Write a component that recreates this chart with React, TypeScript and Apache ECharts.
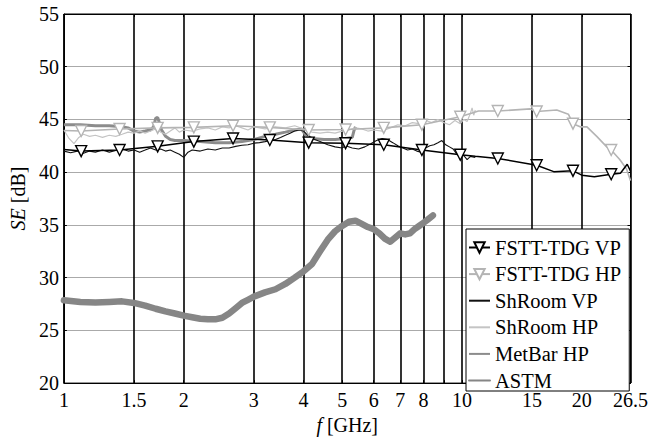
import React, { useEffect, useRef } from "react";
import * as echarts from "echarts";

// ---- axis ticks ----
const xTickLabels = [1, 1.5, 2, 3, 4, 5, 6, 7, 8, 10, 15, 20, 26.5];
const xGridValues = [1, 1.5, 2, 3, 4, 5, 6, 7, 8, 9, 10, 15, 20, 26.5];
const yMin = 20;
const yMax = 55;
const yStep = 5;

// ---- FSTT-TDG marker frequencies (GHz) ----
const markerFreqs = [1.105, 1.38, 1.72, 2.12, 2.66, 3.29, 4.12, 5.1, 6.36, 7.93, 9.9, 12.3, 15.4, 19.0, 23.7];

// ---- FSTT-TDG VP ----
const fsttVpFreq = [1.0, 1.105, 1.38, 1.72, 2.12, 2.66, 3.29, 4.12, 5.1, 6.36, 7.93, 9.9, 10.8, 12.3, 15.4, 17.0, 19.0, 20.0, 21.5, 23.7, 25.0, 26.0, 26.5];
const fsttVpSE = [42.15, 42.0, 42.1, 42.45, 42.9, 43.2, 43.05, 42.8, 42.75, 42.6, 42.1, 41.65, 41.5, 41.3, 40.66, 40.05, 40.13, 39.72, 39.57, 39.8, 39.9, 40.75, 40.1];

// ---- FSTT-TDG HP ----
const fsttHpFreq = [1.0, 1.105, 1.38, 1.72, 2.12, 2.66, 3.29, 4.12, 5.1, 6.36, 7.93, 9.9, 11.0, 12.3, 14.85, 15.4, 17.3, 18.5, 19.0, 19.8, 20.6, 21.8, 23.1, 23.7, 24.9, 25.9, 26.5];
const fsttHpSE = [43.95, 43.9, 44.1, 44.2, 44.25, 44.4, 44.25, 44.0, 44.05, 44.2, 44.5, 45.25, 45.8, 45.8, 46.0, 45.75, 45.9, 45.5, 44.6, 44.3, 44.3, 43.4, 42.4, 42.1, 41.2, 40.3, 39.2];

// ---- ShRoom VP ----
const shVpFreq = [1.0, 1.04, 1.08, 1.12, 1.16, 1.2, 1.25, 1.3, 1.35, 1.4, 1.45, 1.5, 1.55, 1.6, 1.65, 1.7, 1.75, 1.8, 1.85, 1.9, 1.95, 2.0, 2.05, 2.1, 2.2, 2.3, 2.4, 2.5, 2.6, 2.7, 2.8, 2.9, 3.0, 3.1, 3.2, 3.3, 3.4, 3.5, 3.6, 3.7, 3.8, 3.9, 4.0, 4.1, 4.2, 4.4, 4.6, 4.8, 5.0, 5.1, 5.3, 5.5, 5.7, 5.9, 6.1, 6.3, 6.5, 6.7, 6.9, 7.1, 7.3, 7.5, 7.7, 7.9, 8.1, 8.3, 8.5, 8.7, 8.9, 9.1, 9.3, 9.5, 9.7, 9.9, 10.1, 10.3, 10.5, 10.8];
const shVpSE = [42.0, 41.85, 42.0, 41.8, 42.0, 41.9, 42.1, 41.9, 42.05, 42.2, 42.0, 42.1, 41.9, 42.1, 42.3, 42.1, 42.2, 42.0, 42.1, 41.9, 41.7, 41.4, 41.9, 42.1, 42.0, 42.2, 42.1, 42.3, 42.3, 42.45, 42.55, 42.6, 42.75, 42.8, 42.9, 43.0, 43.1, 43.3, 43.5, 43.7, 43.9, 44.0, 43.9, 43.5, 43.2, 42.9, 42.6, 42.4, 42.3, 42.5, 42.3, 42.2, 42.4, 42.7, 43.0, 43.2, 43.1, 42.8, 42.5, 42.3, 42.1, 42.2, 42.0, 41.9, 42.3, 42.5, 42.6, 42.8, 43.0, 42.6, 42.4, 42.2, 41.7, 41.4, 41.6, 41.2, 41.5, 41.4];

// ---- ShRoom HP ----
const shHpFreq = [1.0, 1.03, 1.06, 1.09, 1.12, 1.16, 1.2, 1.25, 1.3, 1.35, 1.4, 1.45, 1.5, 1.55, 1.6, 1.65, 1.7, 1.75, 1.8, 1.85, 1.9, 1.95, 2.0, 2.1, 2.2, 2.3, 2.4, 2.5, 2.6, 2.7, 2.8, 2.9, 3.0, 3.2, 3.4, 3.6, 3.8, 4.0, 4.2, 4.4, 4.6, 4.8, 5.0, 5.2, 5.4, 5.6, 5.8, 6.0, 6.3, 6.6, 6.9, 7.2, 7.5, 7.8, 8.1, 8.4, 8.7, 9.0, 9.3, 9.6, 9.9, 10.1, 10.3, 10.5, 10.6, 10.7, 10.8];
const shHpSE = [44.0, 43.2, 42.7, 43.3, 43.6, 43.4, 43.5, 43.3, 43.5, 43.4, 43.6, 43.8, 43.7, 43.9, 43.7, 43.9, 44.1, 43.8, 43.6, 43.9, 44.2, 43.8, 44.0, 43.9, 44.1, 44.2, 44.0, 44.3, 44.2, 44.4, 44.2, 44.0, 44.3, 44.1, 44.3, 44.2, 44.4, 44.1, 43.8, 43.7, 43.8, 43.7, 43.9, 44.0, 44.2, 44.1, 43.9, 44.0, 43.9, 44.2, 44.5, 44.4, 44.7, 44.6, 44.9, 44.7, 45.0, 44.7, 44.5, 44.9, 44.6, 45.0, 44.8, 45.6, 46.1, 45.4, 45.9];

// ---- MetBar HP ----
const metBarFreq = [1.0, 1.1, 1.2, 1.3, 1.4, 1.45, 1.5, 1.55, 1.6, 1.65, 1.68, 1.7, 1.72, 1.74, 1.76, 1.8, 1.85, 1.9, 2.0, 2.2, 2.4, 2.6, 2.8, 3.0, 3.2, 3.4, 3.6, 3.8, 3.95, 4.05, 4.2, 4.5, 4.8, 5.1, 5.3, 5.35, 5.4];
const metBarSE = [44.5, 44.5, 44.4, 44.4, 44.3, 44.2, 43.9, 43.8, 43.9, 44.0, 44.3, 45.1, 45.2, 44.6, 44.0, 43.4, 43.1, 43.0, 43.0, 42.9, 42.8, 42.8, 42.9, 43.1, 43.4, 43.6, 43.8, 44.0, 44.1, 43.5, 43.2, 43.1, 43.1, 43.2, 43.3, 43.9, 44.3];

// ---- ASTM ----
const astmFreq = [1.0, 1.1, 1.2, 1.3, 1.4, 1.5, 1.6, 1.7, 1.8, 1.9, 2.0, 2.1, 2.2, 2.3, 2.4, 2.5, 2.6, 2.7, 2.8, 2.9, 3.0, 3.2, 3.4, 3.6, 3.8, 4.0, 4.2, 4.4, 4.6, 4.8, 5.0, 5.2, 5.4, 5.6, 5.8, 6.0, 6.2, 6.4, 6.6, 6.8, 7.0, 7.2, 7.4, 7.6, 7.8, 8.0, 8.2, 8.45];
const astmSE = [27.85, 27.7, 27.65, 27.7, 27.75, 27.6, 27.35, 27.05, 26.8, 26.6, 26.4, 26.25, 26.1, 26.05, 26.05, 26.2, 26.6, 27.1, 27.6, 27.9, 28.2, 28.6, 28.9, 29.4, 30.0, 30.6, 31.3, 32.5, 33.6, 34.4, 34.9, 35.3, 35.4, 35.1, 34.8, 34.6, 34.2, 33.7, 33.4, 33.8, 34.2, 34.1, 34.2, 34.6, 34.9, 35.2, 35.5, 35.9];

const FONT = "Liberation Serif, Times New Roman, serif";

const zip = (xs: number[], ys: number[]) => xs.map((x, i) => [x, ys[i]]);
const withMarkers = (xs: number[], ys: number[]) =>
  xs.map((x, i) => ({
    value: [x, ys[i]],
    symbol: markerFreqs.includes(x) ? "triangle" : "none",
  }));

const fmt = (v: number) => String(Math.round(v * 100) / 100);

export default function App() {
  const ref = useRef<HTMLDivElement>(null);

  useEffect(() => {
    if (!ref.current) return;
    const chart = echarts.init(ref.current, null, { renderer: "svg" });

    const xCommon = {
      type: "log",
      logBase: 10,
      min: 1,
      max: 26.5,
      axisLine: { show: true, onZero: false, lineStyle: { color: "#000", width: 1 } },
      minorTick: { show: false },
      minorSplitLine: { show: false },
    };
    const yCommon = {
      type: "value",
      min: yMin,
      max: yMax,
      interval: yStep,
      axisLine: { show: true, onZero: false, lineStyle: { color: "#000", width: 1 } },
    };
    const noSymbol = { itemStyle: { opacity: 0, color: "transparent", borderWidth: 0 } };

    const option: any = {
      animation: false,
      backgroundColor: "#fff",
      grid: {
        left: 60.7,
        right: 20,
        top: 14,
        bottom: 47,
        show: true,
        borderColor: "#000",
        borderWidth: 1,
        backgroundColor: "transparent",
      },
      xAxis: [
        {
          ...xCommon,
          position: "bottom",
          axisTick: {
            show: true,
            inside: true,
            length: 3,
            customValues: xGridValues,
            lineStyle: { color: "#000" },
          },
          axisLabel: {
            customValues: xTickLabels,
            formatter: (v: number) => fmt(v),
            fontFamily: FONT,
            fontSize: 20,
            color: "#000",
            margin: 7,
            hideOverlap: false,
          },
          splitLine: { show: true, lineStyle: { color: "#000", width: 1.6 } },
          name: "{i|f} [GHz]",
          nameLocation: "middle",
          nameGap: 29,
          nameTextStyle: {
            fontFamily: FONT,
            fontSize: 20,
            color: "#000",
            rich: {
              i: { fontFamily: FONT, fontSize: 20, fontStyle: "italic", color: "#000" },
            },
          },
        },
        {
          ...xCommon,
          position: "top",
          axisTick: {
            show: true,
            inside: true,
            length: 3,
            customValues: xGridValues,
            lineStyle: { color: "#000" },
          },
          axisLabel: { show: false },
          splitLine: { show: false },
        },
      ],
      yAxis: [
        {
          ...yCommon,
          position: "left",
          axisTick: { show: true, inside: true, length: 3, lineStyle: { color: "#000" } },
          axisLabel: {
            fontFamily: FONT,
            fontSize: 20,
            color: "#000",
            margin: 5,
          },
          splitLine: { show: true, lineStyle: { color: "#aaaaaa", width: 1.2 } },
          name: "{i|SE} [dB]",
          nameLocation: "middle",
          nameGap: 30,
          nameTextStyle: {
            fontFamily: FONT,
            fontSize: 20,
            color: "#000",
            rich: {
              i: { fontFamily: FONT, fontSize: 20, fontStyle: "italic", color: "#000" },
            },
          },
        },
        {
          ...yCommon,
          position: "right",
          axisTick: { show: true, inside: true, length: 3, lineStyle: { color: "#000" } },
          axisLabel: { show: false },
          splitLine: { show: false },
        },
      ],
      legend: {
        orient: "vertical",
        left: 466,
        top: 229,
        z: 20,
        data: [
          { name: "FSTT-TDG VP" },
          { name: "FSTT-TDG HP" },
          { name: "ShRoom VP", ...noSymbol },
          { name: "ShRoom HP", ...noSymbol },
          { name: "MetBar HP", ...noSymbol },
          { name: "ASTM", ...noSymbol },
        ],
        itemWidth: 21,
        itemHeight: 13,
        itemGap: 5.6,
        padding: [8, 8, 0, 2],
        backgroundColor: "#fff",
        borderColor: "#000",
        borderWidth: 1,
        borderRadius: 0,
        selectedMode: false,
        textStyle: { fontFamily: FONT, fontSize: 20.5, color: "#000", lineHeight: 20 },
      },
      series: [
        {
          name: "ASTM",
          type: "line",
          data: zip(astmFreq, astmSE),
          showSymbol: false,
          symbol: "none",
          color: "#868686",
          lineStyle: { color: "#868686", width: 6.5, cap: "round", join: "round" },
          silent: true,
        },
        {
          name: "MetBar HP",
          type: "line",
          data: zip(metBarFreq, metBarSE),
          showSymbol: false,
          symbol: "none",
          color: "#8c8c8c",
          lineStyle: { color: "#8c8c8c", width: 3 },
          silent: true,
        },
        {
          name: "ShRoom HP",
          type: "line",
          data: zip(shHpFreq, shHpSE),
          showSymbol: false,
          symbol: "none",
          color: "#c4c4c4",
          lineStyle: { color: "#c4c4c4", width: 1.2 },
          silent: true,
        },
        {
          name: "ShRoom VP",
          type: "line",
          data: zip(shVpFreq, shVpSE),
          showSymbol: false,
          symbol: "none",
          color: "#111",
          lineStyle: { color: "#111", width: 1.1 },
          silent: true,
        },
        {
          name: "FSTT-TDG HP",
          type: "line",
          data: withMarkers(fsttHpFreq, fsttHpSE),
          symbol: "triangle",
          symbolRotate: 180,
          symbolSize: 11,
          color: "#b4b4b4",
          lineStyle: { color: "#b4b4b4", width: 1.6 },
          itemStyle: { color: "#fff", borderColor: "#b4b4b4", borderWidth: 1.4 },
          silent: true,
        },
        {
          name: "FSTT-TDG VP",
          type: "line",
          data: withMarkers(fsttVpFreq, fsttVpSE),
          symbol: "triangle",
          symbolRotate: 180,
          symbolSize: 11,
          color: "#000",
          lineStyle: { color: "#000", width: 1.5 },
          itemStyle: { color: "#fff", borderColor: "#000", borderWidth: 1.4 },
          silent: true,
        },
      ],
    };

    chart.setOption(option);
    return () => chart.dispose();
  }, []);

  return <div ref={ref} style={{ width: 651, height: 440, position: "absolute", left: 0, top: 0 }} />;
}
